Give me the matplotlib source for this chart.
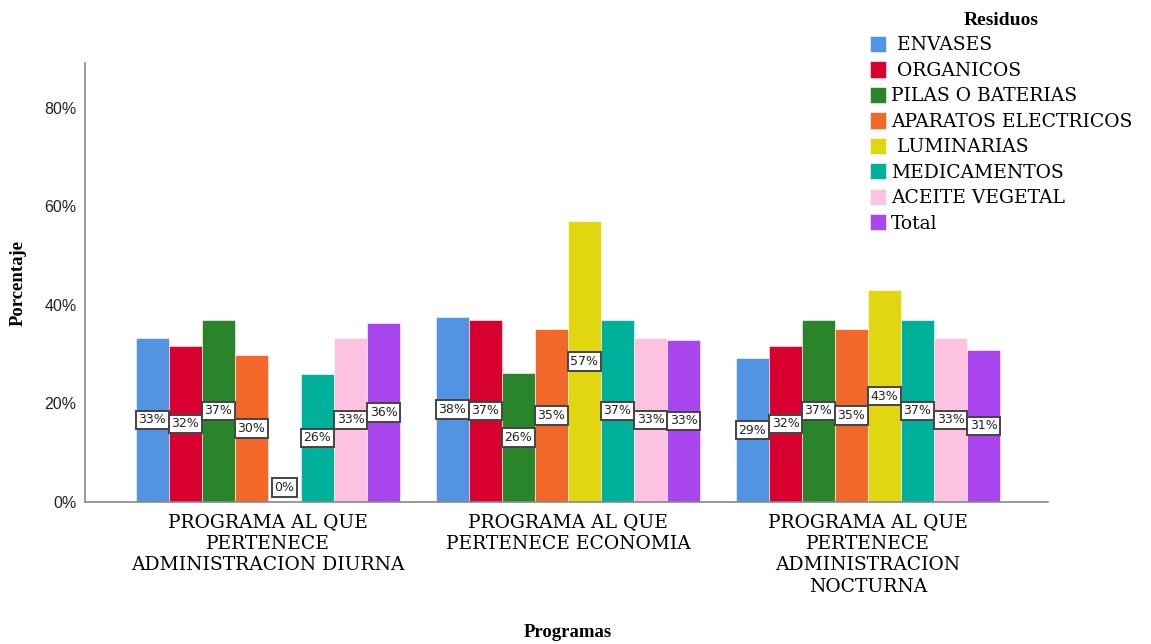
import numpy as np
from matplotlib import pyplot as plt

programas = ['PROGRAMA AL QUE\nPERTENECE\nADMINISTRACION DIURNA',
             'PROGRAMA AL QUE\nPERTENECE ECONOMIA',
             'PROGRAMA AL QUE\nPERTENECE\nADMINISTRACION\nNOCTURNA']

residuos = [' ENVASES', ' ORGANICOS', 'PILAS O BATERIAS', 'APARATOS ELECTRICOS',
            ' LUMINARIAS', 'MEDICAMENTOS', 'ACEITE VEGETAL', 'Total']

envases = [33.3, 37.6, 29.2]
organicos = [31.7, 37.0, 31.7]
pilas = [37.0, 26.2, 37.0]
aparatos = [29.8, 35.1, 35.1]
luminarias = [0.0, 57.1, 43.0]
medicamentos = [26.0, 37.0, 37.0]
aceite = [33.3, 33.3, 33.3]
total = [36.3, 32.9, 30.9]

series = [envases, organicos, pilas, aparatos, luminarias, medicamentos, aceite, total]
colors = ['#5294e2', '#d7002f', '#2a8429', '#f2682a', '#e2d611', '#00b09b', '#fdc2e0', '#a845ee']

plt.rcParams['font.family'] = 'DejaVu Serif'

fig = plt.figure(figsize=(11.51, 6.44), dpi=100)
ax = fig.add_axes([0.0738, 0.2205, 0.8367, 0.6815])

x = np.arange(len(programas))
w = 0.11
for i, (vals, c, name) in enumerate(zip(series, colors, residuos)):
    pos = x + (i - 3.5) * w
    ax.bar(pos, vals, width=w, color=c, edgecolor='white', linewidth=0.4, label=name)
    for p, v in zip(pos, vals):
        ax.text(p, max(v / 2, 2.9), f'{v:.0f}%', ha='center', va='center',
                fontsize=9, family='DejaVu Sans', color='#222222',
                bbox=dict(boxstyle='square,pad=0.22', fc='white', ec='#444444', lw=1.4))

ax.set_xlim(-0.61, 2.6)
ax.set_ylim(0, 89.1)
ax.set_yticks([0, 20, 40, 60, 80])
ax.set_yticklabels(['0%', '20%', '40%', '60%', '80%'], fontsize=11.5,
                   family='Liberation Sans', color='#222222')
ax.set_xticks(x)
ax.set_xticklabels(programas, fontsize=13.5, linespacing=1.25)
ax.tick_params(axis='both', length=0, pad=6)
ax.tick_params(axis='x', pad=8)

for s in ['top', 'right']:
    ax.spines[s].set_visible(False)
for s in ['left', 'bottom']:
    ax.spines[s].set_color('#888888')
    ax.spines[s].set_linewidth(1.2)

fig.text(18 / 1151, 0.56, 'Porcentaje', rotation=90, ha='center', va='center',
         fontsize=13.5, fontweight='bold', family='Liberation Serif')
fig.text(0.493, 0.011, 'Programas', ha='center', fontsize=13.5, fontweight='bold',
         family='Liberation Serif')

leg = fig.legend(loc='upper left', bbox_to_anchor=(0.749, 0.993), frameon=False,
                 title='Residuos', fontsize=13.5, handlelength=0.85, handleheight=0.95,
                 handletextpad=0.3, labelspacing=0.37, borderaxespad=0)
leg.get_title().set_fontweight('bold')
leg.get_title().set_fontsize(14)
leg.get_title().set_family('Liberation Serif')

fig.savefig('out.png', dpi=100)
